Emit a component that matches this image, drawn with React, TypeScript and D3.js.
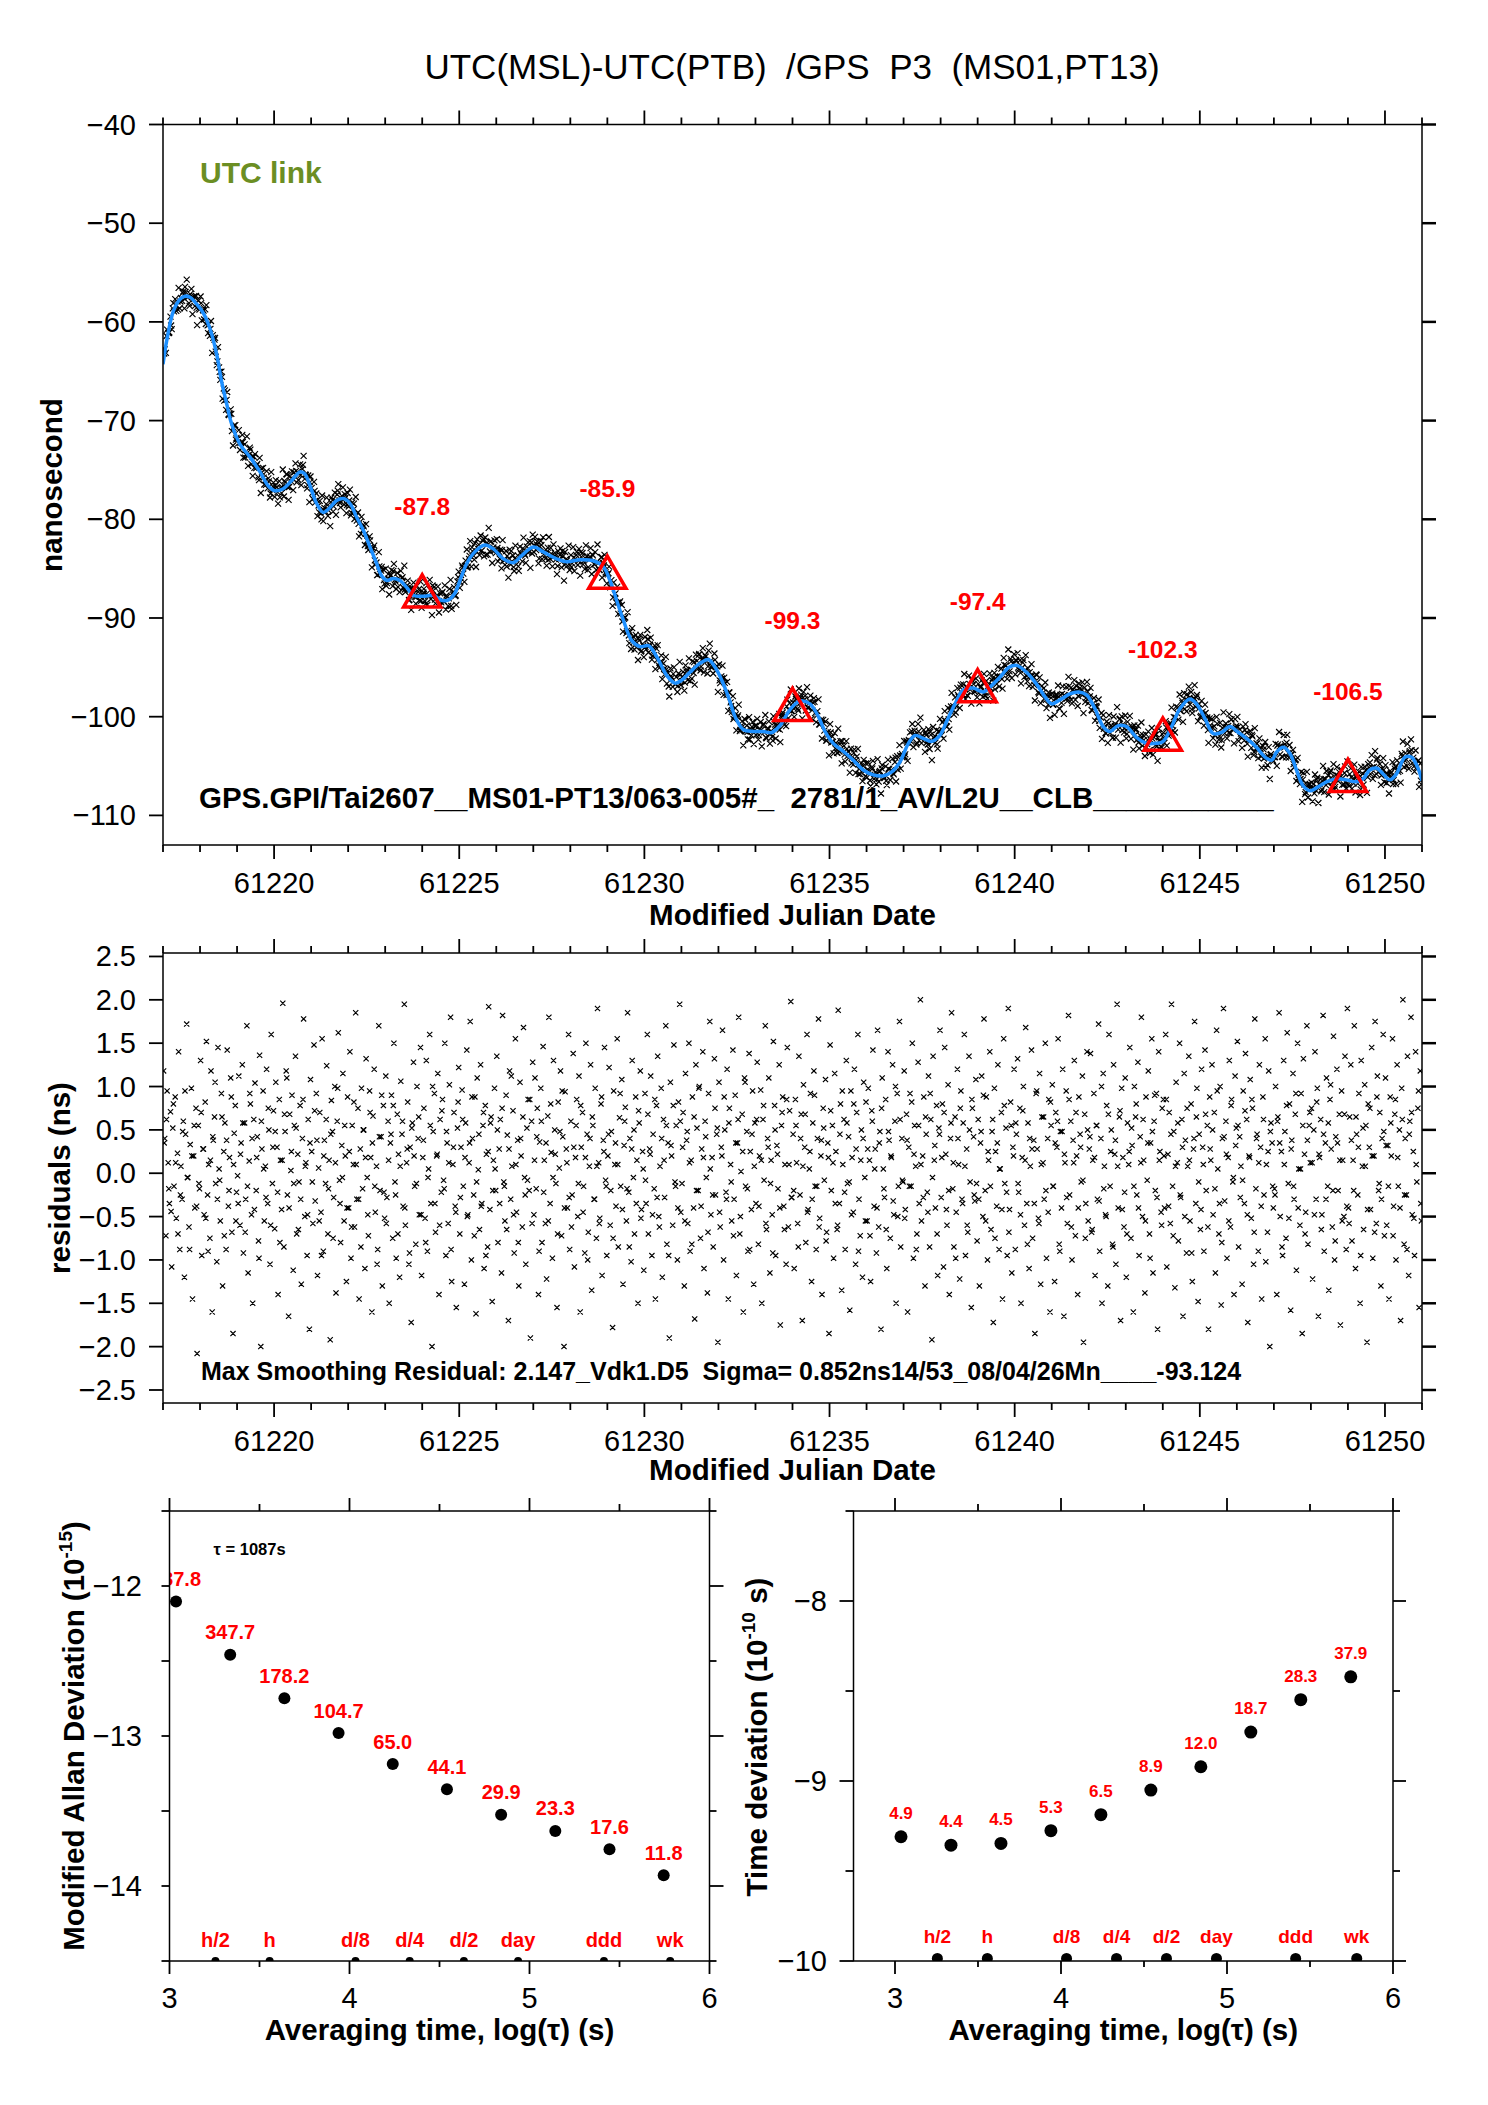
import React from "react";
import * as d3 from "d3";

const F = "'Liberation Sans', Arial, Helvetica, sans-serif";

// ---------- Top panel: smoothed UTC(MSL)-UTC(PTB) curve (MJD, ns) ----------
const knotMjd = [
  61217.0, 61217.1, 61217.28, 61217.46, 61217.59, 61217.73, 61217.91, 61218.09, 61218.27, 61218.45,
  61218.58, 61218.72, 61218.85, 61219.08, 61219.35, 61219.62, 61219.84, 61220.02, 61220.25, 61220.47,
  61220.7, 61220.83, 61220.97, 61221.15, 61221.33, 61221.51, 61221.69, 61221.87, 61222.05, 61222.23,
  61222.41, 61222.59, 61222.77, 61222.9, 61223.04, 61223.22, 61223.4, 61223.58, 61223.76, 61224.03,
  61224.3, 61224.52, 61224.7, 61224.88, 61225.02, 61225.2, 61225.42, 61225.69, 61225.92, 61226.19,
  61226.46, 61226.68, 61227.0, 61227.27, 61227.63, 61227.9, 61228.26, 61228.62, 61228.89, 61229.07,
  61229.25, 61229.43, 61229.66, 61229.88, 61230.11, 61230.33, 61230.6, 61230.83, 61231.01, 61231.23,
  61231.5, 61231.73, 61231.91, 61232.09, 61232.27, 61232.45, 61232.67, 61232.94, 61233.21, 61233.44,
  61233.66, 61233.93, 61234.2, 61234.47, 61234.7, 61234.88, 61235.1, 61235.37, 61235.64, 61235.91,
  61236.18, 61236.45, 61236.68, 61236.9, 61237.13, 61237.31, 61237.53, 61237.76, 61237.98, 61238.16,
  61238.39, 61238.61, 61238.88, 61239.15, 61239.33, 61239.6, 61239.85, 61240.05, 61240.32, 61240.59,
  61240.82, 61241.0, 61241.22, 61241.49, 61241.72, 61241.94, 61242.17, 61242.39, 61242.57, 61242.8,
  61243.02, 61243.29, 61243.56, 61243.83, 61244.01, 61244.24, 61244.46, 61244.73, 61244.91, 61245.14,
  61245.36, 61245.59, 61245.81, 61246.04, 61246.26, 61246.53, 61246.76, 61246.94, 61247.07, 61247.25,
  61247.43, 61247.61, 61247.79, 61247.97, 61248.2, 61248.42, 61248.69, 61248.96, 61249.23, 61249.41,
  61249.59, 61249.77, 61249.95, 61250.13, 61250.31, 61250.54, 61250.72, 61250.9, 61251.0,
];
const knotNs = [
  -64.3, -61.9, -58.9, -57.7, -57.4, -57.5, -58.2, -59.1, -60.7, -63.3,
  -66.0, -68.3, -70.3, -72.4, -73.7, -75.2, -76.6, -77.1, -76.9, -76.1,
  -75.2, -75.4, -76.6, -78.4, -79.3, -78.8, -78.1, -77.9, -78.4, -79.8,
  -81.1, -82.8, -84.5, -85.7, -86.2, -86.0, -86.2, -86.9, -87.7, -87.8,
  -87.7, -88.2, -88.2, -87.5, -86.2, -84.5, -83.3, -82.6, -83.0, -84.0,
  -84.4, -83.7, -82.8, -83.3, -84.0, -84.3, -84.1, -84.2, -84.8, -86.2,
  -88.2, -90.2, -92.3, -92.9, -92.8, -93.9, -95.8, -96.6, -96.3, -95.5,
  -94.6, -94.2, -95.0, -96.3, -98.0, -100.0, -101.3, -101.5, -101.5, -101.6,
  -100.9, -99.3, -98.4, -98.7, -100.0, -101.5, -102.7, -103.5, -104.4, -105.4,
  -105.9, -106.0, -105.6, -104.6, -102.7, -101.9, -102.2, -102.5, -101.9, -100.5,
  -98.7, -97.3, -97.1, -97.5, -97.0, -96.0, -95.0, -94.8, -95.5, -96.7,
  -98.0, -98.7, -98.3, -97.7, -97.5, -97.8, -99.2, -101.0, -101.5, -100.9,
  -101.0, -102.1, -102.7, -102.7, -102.5, -101.0, -99.2, -98.2, -98.7, -100.2,
  -101.7, -101.6, -101.0, -101.6, -102.2, -103.1, -104.1, -104.4, -103.6, -103.1,
  -103.7, -105.4, -107.0, -107.5, -107.1, -106.6, -106.3, -106.4, -106.6, -106.3,
  -105.4, -105.2, -105.8, -106.4, -105.8, -104.1, -104.1, -105.3, -106.5,
];

// Daily markers (red triangles)
const triMjd = [61224, 61229, 61234, 61239, 61244, 61249];
const triNs = [-87.8, -85.9, -99.3, -97.4, -102.3, -106.5];

// Smoothing residuals, in units of 0.01 ns, in time order (first set)
const residHundredths = [
  118, 40, -72, 95, 12, -35, 71, -108, 52, -15, 88, -52, 23, 140, -88, 8, -30, 60, -120, 45, 172, -5, -62, 33, 98, -145, 20, -40, 75, -208, 55, -18,
  130, -95, 28, -48, 82, 152, -25, 10, -75, 118, -160, 38, 65, -12, -102, 145, 5, -55, 92, -130, 25, 58, -88, 142, -38, 18, 110, -68, -185, 46, 78, -22,
  -3, 112, -60, 35, 125, -92, 58, -30, 170, -115, 14, 80, -48, -150, 62, 104, -20, 42, -78, 136, -200, 28, 95, -55, 8, 120, -35, 50, -105, 160, -12, 72,
  -64, 105, 30, -140, 85, 15, -42, 196, -85, 48, 118, -25, -165, 68, 3, 90, -112, 55, 135, -70, 22, -10, 78, -128, 40, 178, -50, 12, -95, 62, -180, 108,
  25, -58, 148, -32, 92, -118, 6, 70, -45, 155, -90, 38, -12, 124, -70, 15, -192, 84, 48, -28, 100, -138, 60, 162, -8, -80, 32, 115, -55, 20, -125, 88,
  -40, 140, -98, 55, 10, -62, 185, -30, 75, -145, 28, 98, -18, 50, -110, 132, -5, -72, 95, 18, -160, 66, 120, -45, 8, -88, 170, -20, 42, -130, 78, -52,
  112, -28, 60, -150, 35, 90, -75, 150, -10, -98, 68, 22, -120, 106, 45, -38, 195, -60, 12, 82, -105, 30, -172, 58, 128, -15, -82, 100, 40, -48, 145, -118,
  18, 75, -52, 130, -90, 5, 160, -35, -200, 48, 92, -68, 20, 115, -140, 62, -22, 85, -8, 150, -95, 35, -58, 102, 180, -125, 10, 70, -38, -155, 52, 122,
  -70, 30, 96, -15, -128, 58, 142, -48, 12, 175, -100, 40, -25, 88, -162, 110, 4, -65, 125, -35, 55, -110, 78, 22, -85, 192, -42, 65, -148, 15, 98, -20,
  135, -80, 28, 62, -115, 182, -10, -55, 90, 44, -170, 118, -30, 8, 72, -92, 155, -45, 38, -130, 105, 20, -62, 168, -5, -105, 52, 85, -20, -190, 60, 128,
  -48, 110, -18, 75, -140, 36, 98, -80, 146, 15, -58, -122, 66, 180, -35, 24, -98, 130, 50, -12, -155, 82, 6, 118, -72, 42, -200, 94, 28, -40, 160, -88,
  60, -25, 138, -108, 18, 85, -50, 112, -160, 30, 70, -15, -92, 150, 45, -68, 8, 125, -135, 55, -30, 98, -75, 190, 12, -52, 80, -118, 38, 145, -8, -95,
  20, 122, -60, 48, -178, 95, 10, -38, 155, -85, 64, -15, 108, -128, 32, 76, -55, 185, -22, 40, -102, 130, -5, -70, 88, 15, -150, 58, 118, -42, 25, -112,
  92, -35, 160, -70, 28, 112, -95, 45, -18, -145, 78, 135, -50, 8, 98, -120, 62, -28, 170, -82, 35, -190, 105, 20, -60, 148, -10, 55, -100, 82, 195, -45,
  -12, 70, -130, 115, 38, -58, 150, -90, 15, 88, -40, -168, 125, 52, -20, 100, -75, 28, 140, -110, 60, -5, -138, 92, 175, -48, 18, -85, 132, -25, 45, -195,
  105, -62, 30, 165, -100, 50, -22, 120, -145, 75, 10, -55, 142, -30, 90, -118, 35, 180, -70, 2, 68, -160, 110, -15, 48, -90, 138, 25, -42, 95, -128, 58,
  -35, 128, -82, 20, 96, -150, 62, -8, 170, -65, 40, 110, -115, 15, -48, 152, 78, -95, 32, -18, 125, -175, 55, 88, -38, 10, -105, 145, -62, 72, 198, -28,
  45, -110, 85, 12, -58, 135, -25, 68, -170, 102, 30, -80, 160, -42, 5, 92, -125, 58, 118, -15, -88, 40, 178, -52, 20, -140, 75, -8, 108, -68, 35, -185,
  148, -20, 55, -98, 115, 25, -65, 188, -35, 80, -135, 10, 62, -88, 130, -12, 42, -158, 95, 18, -45, 120, -105, 70, 160, -30, -72, 50, -120, 105, -5, 82,
  -55, 98, 15, -125, 72, 142, -38, 28, -92, 165, -62, 48, -180, 110, 5, -28, 85, -110, 140, 38, -75, 18, 125, -48, 60, -150, 92, -15, 175, -85, 40, -10,
  118, -42, 68, -160, 30, 92, -15, 150, -98, 55, 8, -70, 128, -35, 200, -55, 20, 88, -130, 45, -22, 112, -85, 62, -192, 135, 15, -40, 78, -118, 52, 165,
  -28, 80, -108, 145, 22, -60, 102, -140, 40, 185, -18, -85, 65, -45, 120, 10, -122, 95, -30, 58, 160, -95, 28, -68, 135, -10, -155, 75, 42, -32, 108, -78,
  62, -130, 35, 112, -50, 178, -20, 88, -100, 15, 140, -65, 48, -172, 98, 25, -38, 125, -88, 5, 70, -145, 155, -12, 52, -95, 190, -42, 82, -115, 30, 120,
  -88, 45, 132, -22, 75, -150, 18, 100, -60, 168, -35, 58, -110, 8, 142, -75, 38, -185, 92, 28, -52, 115, -128, 65, 12, -30, 150, -98, 40, 85, -160, 55,
  102, -15, -125, 70, 30, 155, -82, 48, -40, 120, -165, 12, 95, -58, 182, -25, 60, -100, 38, 130, -72, 20, -140, 88, 45, -10, 112, -195, 68, -35, 140, -55,
  28, 138, -68, 15, 92, -118, 55, -30, 172, -90, 40, -150, 115, 8, -48, 78, -130, 160, -15, 50, -82, 125, 22, -105, 195, -40, 65, -170, 98, 18, -62, 110,
  -120, 58, 10, 145, -75, 32, -160, 100, 65, -25, 128, -95, 42, 180, -50, 15, -138, 88, -8, 118, -70, 35, 155, -115, 60, -20, 92, -180, 140, 25, -45, 75,
  85, -40, 160, -108, 22, 70, -58, 195, -15, 48, -132, 105, 12, -78, 150, -28, 62, -165, 115, 38, -92, 8, 135, -55, 80, -125, 28, 175, -35, 98, -148, 45,
  -65, 120, 30, -90, 142, -20, 55, -180, 88, 15, 125, -48, 70, -115, 165, 5, -70, 100, -152, 40, 190, -32, 60, -98, 18, 130, -62, 85, -10, -140, 112, 52,
  152, -85, 42, 8, -128, 95, -35, 138, 62, -172, 20, 108, -52, 75, -105, 178, -18, 45, -90, 125, 30, -145, 88, -25, 155, 10, -68, 118, -200, 58, 35, -40,
  -18, 100, -140, 65, 185, -50, 25, -95, 130, 48, -75, 162, -12, 80, -158, 38, 115, -30, 68, -112, 150, 5, -60, 92, -185, 132, 22, -45, 170, -82, 55, 12,
  75, -122, 50, 140, -30, 98, -165, 18, 62, -48, 182, -90, 35, 110, -15, -135, 85, 28, -62, 158, -100, 42, 120, -20, 68, -175, 95, 15, -50, 135, -88, 190,
  -40, 65, 125, -78, 15, 170, -110, 45, -25, 92, -150, 130, 8, -65, 102, 55, -195, 80, 30, -42, 145, -98, 20, 175, -58, 112, -20, 70, -130, 40, 160, -72,
  110, -60, 32, -145, 88, 20, 155, -38, 68, -100, 125, -15, 50, -170, 98, 200, -82, 40, -25, 135, -118, 60, 180, -48, 25, -95, 140, -10, 75, -155, 118, -55,
];

// Smoothing residuals, in units of 0.01 ns (second set of tracks)
const residHundredthsB = [
  35, 62, -18, -44, 80, 12, -70, -25, 48, 95, -5, -88, 20, 55, -38, -12,
  70, 28, -52, -90, 15, 42, 105, -30, -8, 65, -72, 38, -20, 88, 10, -55,
  -35, 22, 58, -68, -15, 92, 40, -42, 18, -98, 60, 5, -28, 75, -60, 30,
  48, -22, -80, 15, 68, 110, -40, 25, -12, 52, -65, -30, 85, 8, -48, 35,
  -10, 72, 38, -55, -95, 20, 62, -18, 45, -75, 12, 98, -35, -5, 55, -40,
  25, -62, 82, 10, -30, -85, 50, 18, -48, 70, 35, -15, -105, 42, 90, -22,
  -58, 15, 45, 78, -25, -70, 8, 60, -40, 28, -92, 52, 20, -12, 65, -48,
  38, -80, -5, 55, 100, -35, 22, -60, 72, -18, 48, 12, -88, 30, -45, 82,
  -28, 62, 18, -50, 35, 88, -72, -10, 45, -38, 70, -95, 25, 58, -20, 5,
  50, -35, 75, -15, -65, 28, 112, -48, 10, -80, 40, 65, -25, -8, 85, -58,
  15, 42, -90, 60, -22, 35, -55, 80, -5, 22, -70, 48, 95, -40, 12, -28,
  -62, 30, 55, -12, 78, -45, 18, -100, 40, 65, -30, 8, -58, 88, 25, -15,
  45, -20, -75, 35, 10, 92, -42, 60, -18, -85, 28, 50, -35, 72, -52, 5,
  -8, 68, 22, -48, 85, -28, -62, 40, 15, 55, -95, 32, 78, -15, -40, 60,
  30, -55, 48, 12, -82, 65, -20, 98, -38, 18, 42, -68, 5, -25, 75, 52,
  -45, 20, 88, -30, 58, -10, -72, 35, 62, -50, 25, 105, -18, -88, 45, 8,
  62, -38, 15, 78, -58, 30, -12, -92, 50, 22, -40, 70, -65, 85, 10, -28,
  -20, 55, -85, 40, 8, 68, -45, 25, -30, 90, -15, -62, 38, 52, -78, 18,
  72, 12, -35, -60, 45, 95, -22, 58, -10, -48, 80, 28, -90, 15, 40, -55,
  28, -72, 60, 5, -40, 35, 75, -18, -65, 48, 20, -32, 100, -50, 62, -8,
  -52, 38, -15, 82, 22, -88, 55, 10, -28, 65, -45, 92, -5, 32, -70, 45,
  18, 70, -42, -20, 58, 12, -98, 40, 75, -35, 8, -60, 50, 85, -25, -12,
  -30, 48, 90, -55, 25, -15, 62, -75, 35, 5, -42, 78, -22, -68, 55, 20,
  58, -12, -48, 72, 15, -82, 40, 28, -35, 95, -58, 10, 65, -20, -45, 82,
  -15, 35, 60, -90, 48, 22, -28, 85, -62, 12, 70, -40, 30, -8, -75, 50,
  42, -65, 18, 55, -32, 100, -18, -50, 68, 25, -85, 38, 8, 72, -42, -22,
  -70, 25, 52, -15, 80, -40, 12, 62, -55, 35, -98, 48, 90, -28, 15, -60,
  20, 85, -38, 45, -72, 8, 58, -25, 30, -50, 75, 15, -92, 40, 65, -10,
  -42, 10, 68, -62, 28, 50, -18, 95, -35, -80, 42, 22, -55, 78, -5, 32,
  55, -28, -8, 72, -48, 18, 85, -68, 40, 12, -38, 62, -102, 25, 48, -15,
  -25, 60, 35, -85, 10, 78, -52, 28, -15, 92, -40, 5, 55, -70, 38, 70,
  12, -48, 82, 22, -65, 45, -30, 58, 102, -20, -78, 35, 15, -55, 68, -38,
  -58, 38, -20, 65, 30, -95, 52, 8, -42, 75, 20, -68, 88, -12, -30, 48,
  32, -15, 58, -72, 85, 18, -40, 62, -25, -88, 45, 70, -52, 10, 95, -35,
];

// Axis ticks
const mjdTicks = d3.range(61217, 61252);
const topYTicks = [-40, -50, -60, -70, -80, -90, -100, -110];
const resYTicks = [2.5, 2.0, 1.5, 1.0, 0.5, 0.0, -0.5, -1.0, -1.5, -2.0, -2.5];

// ---------- Bottom panels: stability ----------
const tauS = [1087, 2174, 4348, 8696, 17392, 34784, 69568, 139136, 278272, 556544];
const mdevE15 = [787.8, 347.7, 178.2, 104.7, 65.0, 44.1, 29.9, 23.3, 17.6, 11.8];
const tdevE10 = [4.9, 4.4, 4.5, 5.3, 6.5, 8.9, 12.0, 18.7, 28.3, 37.9];
const markTau = [1800, 3600, 10800, 21600, 43200, 86400, 259200, 604800];
const markLbl = ["h/2", "h", "d/8", "d/4", "d/2", "day", "ddd", "wk"];
const logTauMajor = [3, 4, 5, 6];
const logTauMinor = [3.5, 4.5, 5.5];
const adevMajor = [-12, -13, -14];
const adevMinor = [-11.5, -12.5, -13.5, -14.5];
const tdevMajor = [-8, -9, -10];
const tdevMinor = [-7.5, -8.5, -9.5];

const fmt = (v: number, d: number) => (v < 0 ? "\u2212" : "") + Math.abs(v).toFixed(d);
const r1 = (v: number) => Math.round(v * 10) / 10;
const cross = (x: number, y: number, s: number) =>
  `M${r1(x - s)},${r1(y - s)}L${r1(x + s)},${r1(y + s)}M${r1(x - s)},${r1(y + s)}L${r1(x + s)},${r1(y - s)}`;

export default function App() {
  // Top & residual scales
  const X0 = 163, X1 = 1422;
  const xT = d3.scaleLinear().domain([61217, 61251]).range([X0, X1]);
  const TY0 = 124.5, TY1 = 845;
  const yT = d3.scaleLinear().domain([-113, -40]).range([TY1, TY0]);
  const RY0 = 953, RY1 = 1403;
  const yR = d3.scaleLinear().domain([-2.65, 2.54]).range([RY1, RY0]);

  const smooth = d3.scaleLinear().domain(knotMjd).range(knotNs);
  const span = 34;
  const NA = residHundredths.length;
  const NB = residHundredthsB.length;
  const pts: { t: number; r: number }[] = [
    ...residHundredths.map((r, i) => ({ t: 61217 + ((i + 0.5) * span) / NA, r: r / 100 })),
    ...residHundredthsB.map((r, j) => ({ t: 61217 + ((j + 0.5) * span) / NB, r: r / 100 })),
  ];
  const topCross = pts.map((p) => cross(xT(p.t), yT(smooth(p.t) + p.r), 3)).join("");
  const resCross = pts.map((p) => cross(xT(p.t), yR(p.r), 2.6)).join("");
  const linePath =
    d3
      .line<number>()
      .x((_, i) => xT(knotMjd[i]))
      .y((v) => yT(v))
      .curve(d3.curveCatmullRom.alpha(0.5))(knotNs) || "";
  const triPath = d3.symbol(d3.symbolTriangle, 600)() || "";

  // Bottom scales
  const BY0 = 1511, BY1 = 1961;
  const LX0 = 169.5, LX1 = 709.5;
  const xL = d3.scaleLinear().domain([3, 6]).range([LX0, LX1]);
  const yL = d3.scaleLinear().domain([-14.5, -11.5]).range([BY1, BY0]);
  const RX0 = 853.5, RX1 = 1393;
  const xR = d3.scaleLinear().domain([2.75, 6]).range([RX0, RX1]);
  const yRt = d3.scaleLinear().domain([-10, -7.5]).range([BY1, BY0]);

  const tickW = 1.8;

  const mjdAxis = (yTop: number, yBot: number, labelY: number, key: string) => (
    <g key={key}>
      {mjdTicks.map((t) => {
        const major = t % 5 === 0;
        const len = major ? 14 : 7;
        const x = xT(t);
        return (
          <g key={t}>
            <line x1={x} x2={x} y1={yTop} y2={yTop - len} stroke="#000" strokeWidth={tickW} />
            <line x1={x} x2={x} y1={yBot} y2={yBot + len} stroke="#000" strokeWidth={tickW} />
            {major && (
              <text x={x} y={labelY} textAnchor="middle" fontSize={29}>
                {t}
              </text>
            )}
          </g>
        );
      })}
    </g>
  );

  return (
    <svg
      width={1488}
      height={2105}
      viewBox="0 0 1488 2105"
      style={{ position: "absolute", left: 0, top: 0, background: "#fff" }}
      fontFamily={F}
    >
      <defs>
        <clipPath id="clipTop">
          <rect x={X0} y={TY0} width={X1 - X0} height={TY1 - TY0} />
        </clipPath>
        <clipPath id="clipRes">
          <rect x={X0} y={RY0} width={X1 - X0} height={RY1 - RY0} />
        </clipPath>
        <clipPath id="clipL">
          <rect x={LX0} y={BY0} width={LX1 - LX0} height={BY1 - BY0} />
        </clipPath>
        <clipPath id="clipR">
          <rect x={RX0} y={BY0} width={RX1 - RX0} height={BY1 - BY0} />
        </clipPath>
      </defs>
      <rect x={0} y={0} width={1488} height={2105} fill="#fff" />

      {/* Title */}
      <text x={792} y={79} textAnchor="middle" fontSize={35} style={{ whiteSpace: "pre" }}>
        {"UTC(MSL)-UTC(PTB)  /GPS  P3  (MS01,PT13)"}
      </text>

      {/* ================= Top panel ================= */}
      <g clipPath="url(#clipTop)">
        <path d={topCross} stroke="#000" strokeWidth={1.15} fill="none" />
        <path d={linePath} stroke="#1e90ff" strokeWidth={3.5} fill="none" />
      </g>
      {triMjd.map((t, i) => (
        <g key={t}>
          <path d={triPath} transform={`translate(${xT(t)},${yT(triNs[i])})`} fill="none" stroke="#ff0000" strokeWidth={3.5} />
          <text x={xT(t)} y={yT(triNs[i]) - 81} textAnchor="middle" fontSize={24.5} fontWeight="bold" fill="#ff0000">
            {triNs[i].toFixed(1)}
          </text>
        </g>
      ))}
      <rect x={X0} y={TY0} width={X1 - X0} height={TY1 - TY0} fill="none" stroke="#000" strokeWidth={1.5} />
      {mjdAxis(TY0, TY1, 893, "topx")}
      {topYTicks.map((v) => (
        <g key={v}>
          <line x1={X0 - 14} x2={X0} y1={yT(v)} y2={yT(v)} stroke="#000" strokeWidth={tickW} />
          <line x1={X1} x2={X1 + 14} y1={yT(v)} y2={yT(v)} stroke="#000" strokeWidth={2.5} />
          <text x={136} y={yT(v) + 10} textAnchor="end" fontSize={29}>
            {fmt(v, 0)}
          </text>
        </g>
      ))}
      <text x={200} y={183} fontSize={30} fontWeight="bold" fill="#6b8e23">
        UTC link
      </text>
      <text x={199} y={808} fontSize={29.5} fontWeight="bold" style={{ whiteSpace: "pre" }}>
        {"GPS.GPI/Tai2607__MS01-PT13/063-005#_  2781/1_AV/L2U__CLB___________"}
      </text>
      <text x={792.5} y={925} textAnchor="middle" fontSize={29.5} fontWeight="bold">
        Modified Julian Date
      </text>
      <text transform="translate(62,485) rotate(-90)" textAnchor="middle" fontSize={29.5} fontWeight="bold">
        nanosecond
      </text>

      {/* ================= Residuals panel ================= */}
      <g clipPath="url(#clipRes)">
        <path d={resCross} stroke="#000" strokeWidth={1.15} fill="none" />
      </g>
      <rect x={X0} y={RY0} width={X1 - X0} height={RY1 - RY0} fill="none" stroke="#000" strokeWidth={1.5} />
      {mjdAxis(RY0, RY1, 1451, "resx")}
      {resYTicks.map((v) => (
        <g key={v}>
          <line x1={X0 - 14} x2={X0} y1={yR(v)} y2={yR(v)} stroke="#000" strokeWidth={tickW} />
          <line x1={X1} x2={X1 + 14} y1={yR(v)} y2={yR(v)} stroke="#000" strokeWidth={2.5} />
          <text x={136} y={yR(v) + 10} textAnchor="end" fontSize={29}>
            {fmt(v, 1)}
          </text>
        </g>
      ))}
      <text x={201} y={1380} fontSize={25} fontWeight="bold" style={{ whiteSpace: "pre" }}>
        {"Max Smoothing Residual: 2.147_Vdk1.D5  Sigma= 0.852ns14/53_08/04/26Mn____-93.124"}
      </text>
      <text x={792.5} y={1480} textAnchor="middle" fontSize={29.5} fontWeight="bold">
        Modified Julian Date
      </text>
      <text transform="translate(70,1178) rotate(-90)" textAnchor="middle" fontSize={29.5} fontWeight="bold">
        residuals (ns)
      </text>

      {/* ================= Bottom-left: Modified Allan deviation ================= */}
      <g clipPath="url(#clipL)">
        {tauS.map((t, i) => (
          <g key={t}>
            <circle cx={xL(Math.log10(t))} cy={yL(Math.log10(mdevE15[i] * 1e-15))} r={6} fill="#000" />
            <text
              x={xL(Math.log10(t))}
              y={yL(Math.log10(mdevE15[i] * 1e-15)) - 15.5}
              textAnchor="middle"
              fontSize={20}
              fontWeight="bold"
              fill="#ff0000"
            >
              {mdevE15[i].toFixed(1)}
            </text>
          </g>
        ))}
        {markTau.map((t) => (
          <circle key={t} cx={xL(Math.log10(t))} cy={BY1} r={4} fill="#000" />
        ))}
      </g>
      {markTau.map((t, i) => (
        <text key={t} x={xL(Math.log10(t))} y={1947} textAnchor="middle" fontSize={20} fontWeight="bold" fill="#ff0000">
          {markLbl[i]}
        </text>
      ))}
      <text x={213.6} y={1555} fontSize={16.5} fontWeight="bold">
        {"\u03C4 = 1087s"}
      </text>
      <rect x={LX0} y={BY0} width={LX1 - LX0} height={BY1 - BY0} fill="none" stroke="#000" strokeWidth={1.5} />
      {logTauMajor.map((v) => (
        <g key={v}>
          <line x1={xL(v)} x2={xL(v)} y1={BY0} y2={BY0 - 13} stroke="#000" strokeWidth={tickW} />
          <line x1={xL(v)} x2={xL(v)} y1={BY1} y2={BY1 + 13} stroke="#000" strokeWidth={tickW} />
          <text x={xL(v)} y={2008} textAnchor="middle" fontSize={29}>
            {v}
          </text>
        </g>
      ))}
      {logTauMinor.map((v) => (
        <g key={v}>
          <line x1={xL(v)} x2={xL(v)} y1={BY0} y2={BY0 - 7} stroke="#000" strokeWidth={tickW} />
          <line x1={xL(v)} x2={xL(v)} y1={BY1} y2={BY1 + 6} stroke="#000" strokeWidth={tickW} />
        </g>
      ))}
      {adevMajor.map((v) => (
        <g key={v}>
          <line x1={LX0 - 8} x2={LX0} y1={yL(v)} y2={yL(v)} stroke="#000" strokeWidth={tickW} />
          <line x1={LX1} x2={LX1 + 14} y1={yL(v)} y2={yL(v)} stroke="#000" strokeWidth={tickW} />
          <text x={142} y={yL(v) + 10} textAnchor="end" fontSize={29}>
            {fmt(v, 0)}
          </text>
        </g>
      ))}
      {adevMinor.map((v) => (
        <g key={v}>
          <line x1={LX0 - 8} x2={LX0} y1={yL(v)} y2={yL(v)} stroke="#000" strokeWidth={tickW} />
          <line x1={LX1} x2={LX1 + 7} y1={yL(v)} y2={yL(v)} stroke="#000" strokeWidth={tickW} />
        </g>
      ))}
      <text x={(LX0 + LX1) / 2} y={2040} textAnchor="middle" fontSize={29.5} fontWeight="bold">
        {"Averaging time, log(\u03C4) (s)"}
      </text>
      <text transform="translate(84,1736) rotate(-90)" textAnchor="middle" fontSize={29.5} fontWeight="bold">
        <tspan>Modified Allan Deviation (10</tspan>
        <tspan fontSize={19} dy={-12}>
          -15
        </tspan>
        <tspan dy={12}>)</tspan>
      </text>

      {/* ================= Bottom-right: Time deviation ================= */}
      <g clipPath="url(#clipR)">
        {tauS.map((t, i) => (
          <g key={t}>
            <circle cx={xR(Math.log10(t))} cy={yRt(Math.log10(tdevE10[i] * 1e-10))} r={6.5} fill="#000" />
            <text
              x={xR(Math.log10(t))}
              y={yRt(Math.log10(tdevE10[i] * 1e-10)) - 18}
              textAnchor="middle"
              fontSize={17}
              fontWeight="bold"
              fill="#ff0000"
            >
              {tdevE10[i].toFixed(1)}
            </text>
          </g>
        ))}
        {markTau.map((t) => (
          <circle key={t} cx={xR(Math.log10(t))} cy={BY1 - 2.5} r={5.5} fill="#000" />
        ))}
      </g>
      {markTau.map((t, i) => (
        <text key={t} x={xR(Math.log10(t))} y={1943} textAnchor="middle" fontSize={19} fontWeight="bold" fill="#ff0000">
          {markLbl[i]}
        </text>
      ))}
      <rect x={RX0} y={BY0} width={RX1 - RX0} height={BY1 - BY0} fill="none" stroke="#000" strokeWidth={1.5} />
      {logTauMajor.map((v) => (
        <g key={v}>
          <line x1={xR(v)} x2={xR(v)} y1={BY0} y2={BY0 - 13} stroke="#000" strokeWidth={tickW} />
          <line x1={xR(v)} x2={xR(v)} y1={BY1} y2={BY1 + 13} stroke="#000" strokeWidth={tickW} />
          <text x={xR(v)} y={2008} textAnchor="middle" fontSize={29}>
            {v}
          </text>
        </g>
      ))}
      {logTauMinor.map((v) => (
        <g key={v}>
          <line x1={xR(v)} x2={xR(v)} y1={BY0} y2={BY0 - 7} stroke="#000" strokeWidth={tickW} />
          <line x1={xR(v)} x2={xR(v)} y1={BY1} y2={BY1 + 6} stroke="#000" strokeWidth={tickW} />
        </g>
      ))}
      {tdevMajor.map((v) => (
        <g key={v}>
          <line x1={RX0 - 14} x2={RX0} y1={yRt(v)} y2={yRt(v)} stroke="#000" strokeWidth={tickW} />
          <line x1={RX1} x2={RX1 + 13} y1={yRt(v)} y2={yRt(v)} stroke="#000" strokeWidth={tickW} />
          <text x={827} y={yRt(v) + 10} textAnchor="end" fontSize={29}>
            {fmt(v, 0)}
          </text>
        </g>
      ))}
      {tdevMinor.map((v) => (
        <g key={v}>
          <line x1={RX0 - 8} x2={RX0} y1={yRt(v)} y2={yRt(v)} stroke="#000" strokeWidth={tickW} />
          <line x1={RX1} x2={RX1 + 7} y1={yRt(v)} y2={yRt(v)} stroke="#000" strokeWidth={tickW} />
        </g>
      ))}
      <text x={(RX0 + RX1) / 2} y={2040} textAnchor="middle" fontSize={29.5} fontWeight="bold">
        {"Averaging time, log(\u03C4) (s)"}
      </text>
      <text transform="translate(767,1737) rotate(-90)" textAnchor="middle" fontSize={29.5} fontWeight="bold">
        <tspan>Time deviation (10</tspan>
        <tspan fontSize={19} dy={-12}>
          -10
        </tspan>
        <tspan dy={12}> s)</tspan>
      </text>
    </svg>
  );
}
